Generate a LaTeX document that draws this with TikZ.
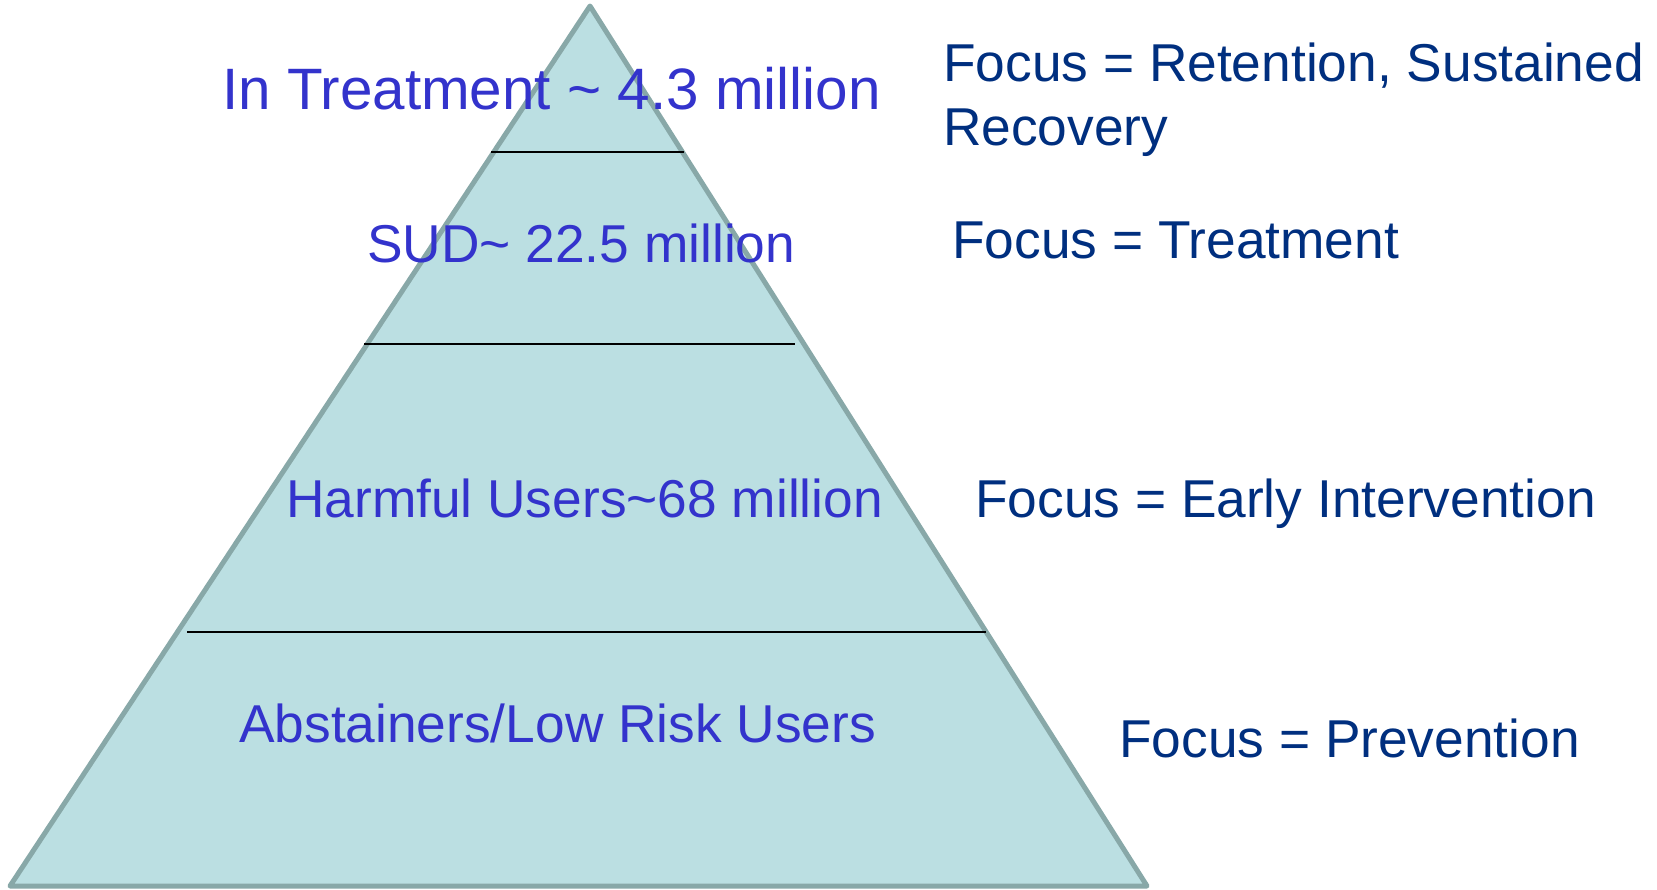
\documentclass[tikz,border=0pt]{standalone}
\usepackage{fontspec}
\setmainfont{Liberation Sans}
\usetikzlibrary{calc,positioning}
\definecolor{pyrfill}{HTML}{BBDFE2}
\definecolor{pyredge}{HTML}{88A8A8}
\definecolor{tierblue}{HTML}{3333CC}
\definecolor{focusblue}{HTML}{002F7F}

\begin{document}
\begin{tikzpicture}[
    x=1pt, y=-1pt,
    tier/.style  = {anchor=base west, inner sep=0pt, text=tierblue, font=\fontsize{53.3}{64}\selectfont},
    focus/.style = {anchor=base west, inner sep=0pt, text=focusblue, font=\fontsize{53.3}{64}\selectfont, align=left},
    divider/.style = {line width=2.5pt, black},
  ]
  \useasboundingbox (0,0) rectangle (1657,889);

  % Eckpunkte der Pyramide
  \coordinate (A) at (590,6);
  \coordinate (B) at (10,886);
  \coordinate (C) at (1147,886);

  % Pyramide
  \draw[pyredge, line width=5pt, fill=pyrfill, line join=round] (A) -- (C) -- (B) -- cycle;

  % Trennlinien zwischen den Stufen
  \coordinate (L1) at (491,152); \coordinate (R1) at (684,152);
  \coordinate (L2) at (364,344); \coordinate (R2) at (795,344);
  \coordinate (L3) at (187,632); \coordinate (R3) at (986,632);
  \draw[divider] (L1) -- (R1);
  \draw[divider] (L2) -- (R2);
  \draw[divider] (L3) -- (R3);

  % Stufen
  \node (T1) at (222,109) [tier, font=\fontsize{58.4}{68}\selectfont] {In Treatment \textasciitilde{} 4.3 million};
  \node (T2) at (367,262) [tier] {SUD\textasciitilde{} 22.5 million};
  \node (T3) at (286,517) [tier] {Harmful Users\textasciitilde{}68 million};
  \node (T4) at (239,742) [tier] {Abstainers/Low Risk Users};

  % Schwerpunkte (Grundlinie der letzten Zeile)
  \node (F1) at (943,145)  [focus] {Focus = Retention, Sustained\\Recovery};
  \node (F2) at (952,258)  [focus] {Focus = Treatment};
  \node (F3) at (975,517)  [focus] {Focus = Early Intervention};
  \node (F4) at (1119,757) [focus] {Focus = Prevention};
\end{tikzpicture}
\end{document}
